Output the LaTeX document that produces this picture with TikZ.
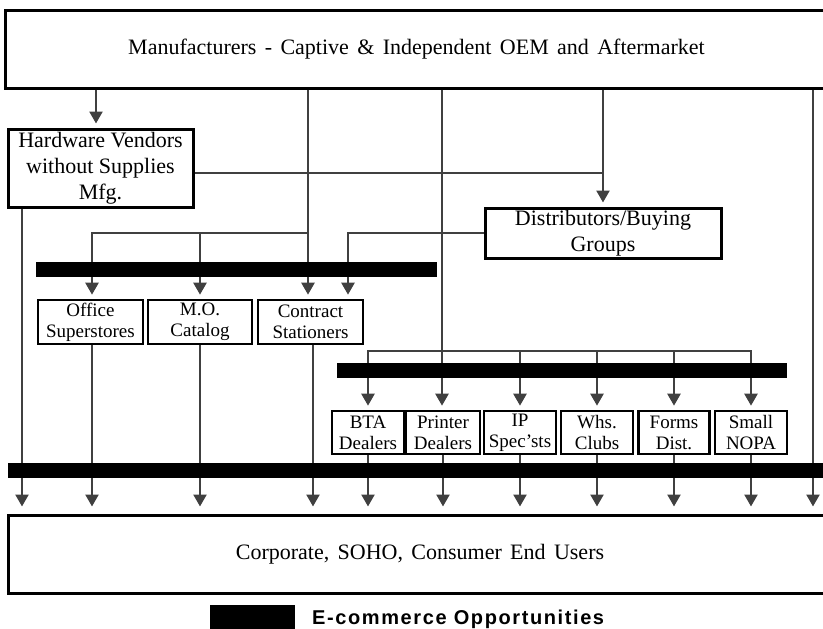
\documentclass[tikz,border=0pt]{standalone}
\usepackage{fontspec}
\setmainfont{Liberation Serif}
\newfontfamily\legendfont[LetterSpace=8]{Liberation Sans}
\usetikzlibrary{arrows.meta}
\definecolor{flowgray}{RGB}{64,64,64}
\newcommand\setwidewords{\spaceskip 0.38em\relax}
\tikzset{
  bignode/.style = {shape=rectangle, draw, line width=3pt, align=center,
                    inner sep=0pt, font=\fontsize{22}{26}\selectfont},
  widetext/.style = {execute at begin node=\setwidewords},
  outlet/.style  = {shape=rectangle, draw, line width=2.6pt, align=center,
                    inner sep=0pt, font=\fontsize{19}{21}\selectfont},
  ebar/.style    = {shape=rectangle, fill=black, inner sep=0pt, minimum height=15pt},
  flow/.style    = {draw=flowgray, line width=2.4pt,
                    -{Triangle[width=13pt,length=12pt]}, shorten >=4pt},
  feed/.style    = {draw=flowgray, line width=2.4pt},
  enduser/.style = {flow, shorten >=7pt}
}

\begin{document}
\begin{tikzpicture}[x=1pt, y=-1pt]
 \useasboundingbox (0,0) rectangle (823,629);

 % suppliers, distributors and end users
 \node [bignode, widetext, minimum width=823pt, minimum height=78pt] (mfr) at (416.5,49)
   {Manufacturers - Captive \& Independent OEM and Aftermarket};
 \node [bignode, widetext, minimum width=824pt, minimum height=78pt] (users) at (420,554)
   {Corporate, SOHO, Consumer End Users};
 \node [bignode, minimum width=185pt, minimum height=78pt] (hw) at (100.5,168)
   {Hardware Vendors\\without Supplies\\Mfg.};
 \node [bignode, minimum width=236pt, minimum height=50pt] (dist) at (603,233)
   {Distributors/Buying\\Groups};

 % first row of outlets
 \node [outlet, minimum width=105pt, minimum height=44pt] (office) at (90.5,322) {Office\\Superstores};
 \node [outlet, minimum width=104pt, minimum height=44pt] (mocat) at (200,322) {M.O.\\Catalog};
 \node [outlet, minimum width=105pt, minimum height=44pt] (contract) at (310.5,322) {Contract\\Stationers};

 % second row of outlets
 \node [outlet, minimum width=72pt, minimum height=43pt] (bta) at (368,432.5) {BTA\\Dealers};
 \node [outlet, minimum width=74pt, minimum height=43pt] (printer) at (443,432.5) {Printer\\Dealers};
 \node [outlet, minimum width=72pt, minimum height=43pt] (ip) at (520,432.5) {IP\\Spec’sts};
 \node [outlet, minimum width=72pt, minimum height=43pt] (whs) at (597,432.5) {Whs.\\Clubs};
 \node [outlet, minimum width=71pt, minimum height=43pt] (forms) at (674,432.5) {Forms\\Dist.};
 \node [outlet, minimum width=72pt, minimum height=43pt] (nopa) at (751,432.5) {Small\\NOPA};

 \coordinate (oem) at (308,233);
 \coordinate (direct) at (442,351);
 \coordinate (aftermkt) at (813,300);

 % from the manufacturers
 \draw [flow] ([xshift=-4.5pt]hw.north |- mfr.south) -- ([xshift=-4.5pt]hw.north);
 \draw [flow] (mfr.south -| oem) -- (oem |- contract.north);
 \draw [flow] (oem) -| ([xshift=1.5pt]office.north);
 \draw [flow] (oem -| mocat.north) -- (mocat.north);
 \draw [flow] (mfr.south -| direct) -- (direct |- printer.north);
 \draw [flow] (direct) -| (bta.north);
 \draw [flow] (direct) -| (nopa.north);
 \draw [flow] (direct -| ip.north) -- (ip.north);
 \draw [flow] (direct -| whs.north) -- (whs.north);
 \draw [flow] (direct -| forms.north) -- (forms.north);
 \draw [flow] (mfr.south -| dist.north) -- (dist.north);
 \draw [feed] ([yshift=-5pt]hw.east) -- ([yshift=-5pt]hw.east -| dist.north);
 \draw [flow] (dist.west) -| ([xshift=37.5pt]contract.north);

 % down to the end users
 \draw [enduser] (mfr.south -| aftermkt) -- (aftermkt |- users.north);
 \draw [enduser] ([xshift=-78.5pt]hw.south) -- ([xshift=-78.5pt]hw.south |- users.north);
 \draw [enduser] ([xshift=1.5pt]office.south) -- ([xshift=1.5pt]office.south |- users.north);
 \draw [enduser] ([xshift=2.5pt]contract.south) -- ([xshift=2.5pt]contract.south |- users.north);
 \foreach \src in {mocat, bta, printer, ip, whs, forms, nopa}
   \draw [enduser] (\src.south) -- (\src.south |- users.north);

 % e-commerce bars
 \node [ebar, minimum width=401pt] (ebar1) at (236.5,269.5) {};
 \node [ebar, minimum width=450pt] (ebar2) at (562,370.5) {};
 \node [ebar, minimum width=827pt] (ebar3) at (421.5,470.5) {};

 % legend
 \node [ebar, minimum width=85pt, minimum height=26pt] (key) at (252.5,618) {};
 \node [anchor=base west, inner sep=0pt, font=\legendfont\bfseries\fontsize{20}{24}\selectfont]
   (keytext) at (312,624) {E-commerce Opportunities};
\end{tikzpicture}
\end{document}
